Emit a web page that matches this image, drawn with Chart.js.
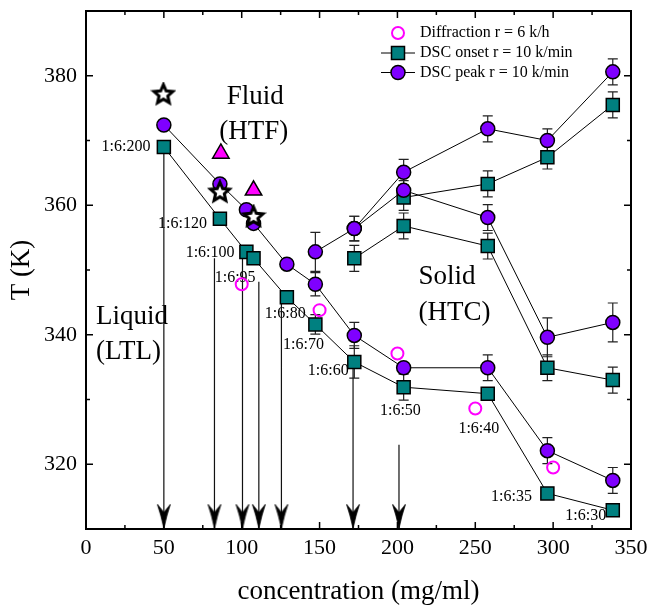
<!DOCTYPE html>
<html>
<head>
<meta charset="utf-8">
<script src="https://cdn.jsdelivr.net/npm/chart.js@4"></script>
<style>
  body { margin: 0; background: #fff; }
</style>
</head>
<body>
<canvas id="chart" width="652" height="608"></canvas>
<script>
// values: concentration (mg/ml) and T (K)
const peakLowX = [50, 86, 103, 107.6, 129, 147.3, 172.3, 204, 258, 296.3, 338.3];
const peakLowT = [372.4, 363.3, 359.3, 357.2, 350.9, 347.8, 339.9, 334.9, 334.9, 322.1, 317.5];
const peakLowErr = [0.7, 0.7, 0.7, 0.7, 0.7, 1.8, 2, 0.8, 2, 2, 2];

const peakHighX = [147.3, 172.3, 204, 258, 296.3, 338.3];
const peakHighT = [352.8, 356.4, 365.1, 371.8, 370.0, 380.6];
const peakHighErr = [3, 1.9, 2, 2, 1.8, 2];

const peakMidX = [172.3, 204, 258, 296.3, 338.3];
const peakMidT = [356.4, 362.3, 358.1, 339.6, 341.9];
const peakMidErr = [1.9, 1.5, 2, 3, 3];

const onsetLowX = [50, 86, 103, 107.6, 129, 147.3, 172.3, 204, 258, 296.3, 338.3];
const onsetLowT = [369.0, 357.9, 352.8, 351.8, 345.8, 341.6, 335.8, 331.9, 330.9, 315.5, 312.9];
const onsetLowErr = [0, 0, 0, 0, 0, 1.5, 2.5, 2, 0.8, 0.8, 0.8];

const onsetMidX = [172.3, 204, 258, 296.3, 338.3];
const onsetMidT = [351.8, 356.8, 353.7, 334.9, 333.0];
const onsetMidErr = [2, 2, 2, 2, 2];

const onsetHighX = [204, 258, 296.3, 338.3];
const onsetHighT = [361.2, 363.3, 367.4, 375.5];
const onsetHighErr = [2, 2, 1.8, 2];

const diffX = [100, 150, 200, 250, 300];
const diffT = [347.8, 343.8, 337.1, 328.6, 319.5];

const starX = [49.7, 86, 107.6];
const starT = [377.1, 362.0, 358.2];

const triX = [86.6, 107.6];
const triT = [368.0, 362.3];

const arrowX = [50, 82.5, 100.5, 111, 125.5, 171.5, 201];
const arrowTop = [368.5, 351.8, 352, 348.2, 345, 335, 323];
const arrowTip = 310.1;

const xTicksMajor = [0, 50, 100, 150, 200, 250, 300, 350];
const yTicksMajor = [320, 340, 360, 380];

const ratioLabels = ['1:6:200', '1:6:120', '1:6:100', '1:6:95', '1:6:80', '1:6:70',
                     '1:6:60', '1:6:50', '1:6:40', '1:6:35', '1:6:30'];
const ratioX = [25.7, 62, 79.7, 95.8, 128, 139.7, 155.6, 201.9, 252.3, 273.3, 320.9];
const ratioT = [369.1, 357.2, 352.6, 348.8, 343.3, 338.5, 334.4, 328.2, 325.4, 314.9, 312.0];

const regionLabels = ['Fluid', '(HTF)', 'Liquid', '(LTL)', 'Solid', '(HTC)'];
const regionX = [108.7, 107.7, 6.4, 6.4, 213.5, 213.5];
const regionT = [376.8, 371.4, 342.8, 337.4, 349.0, 343.3];
const regionAlign = ['center', 'center', 'left', 'left', 'left', 'left'];

const legendNames = ['Diffraction r = 6 k/h', 'DSC onset r = 10 k/min', 'DSC peak r = 10 k/min'];

const PURPLE = '#7f00ff';
const TEAL = '#008080';
const MAGENTA = '#ff00ff';
const SERIF = "'Liberation Serif', 'Times New Roman', serif";

Chart.defaults.font.family = SERIF;
Chart.defaults.color = '#000';

function pts(xs, ys) {
  return xs.map((x, i) => ({x: x, y: ys[i]}));
}

// 5 pointed white star
function makeStar() {
  const c = document.createElement('canvas');
  c.width = 26; c.height = 26;
  const g = c.getContext('2d');
  g.beginPath();
  for (let i = 0; i < 10; i++) {
    const r = i % 2 === 0 ? 10 : 4.6;
    const a = -Math.PI / 2 + i * Math.PI / 5;
    const px = 13 + r * Math.cos(a), py = 13 + r * Math.sin(a);
    if (i === 0) g.moveTo(px, py); else g.lineTo(px, py);
  }
  g.closePath();
  g.fillStyle = '#fff';
  g.fill();
  g.lineWidth = 3;
  g.lineJoin = 'miter';
  g.strokeStyle = '#000';
  g.stroke();
  return c;
}

// barbed arrow head, tip at the canvas centre
function makeArrow() {
  const c = document.createElement('canvas');
  c.width = 16; c.height = 52;
  const g = c.getContext('2d');
  g.beginPath();
  g.moveTo(8, 26);
  g.quadraticCurveTo(5, 12, 1.5, 2);
  g.lineTo(8, 10);
  g.lineTo(14.5, 2);
  g.quadraticCurveTo(11, 12, 8, 26);
  g.closePath();
  g.fillStyle = '#000';
  g.fill();
  g.lineWidth = 0.8;
  g.strokeStyle = '#000';
  g.stroke();
  return c;
}

const starImg = makeStar();
const arrowImg = makeArrow();

const arrowData = [];
arrowX.forEach((x, i) => {
  arrowData.push({x: x, y: arrowTop[i]}, {x: x, y: arrowTip}, {x: x, y: null});
});

const errBars = [
  [peakLowX, peakLowT, peakLowErr],
  [peakHighX, peakHighT, peakHighErr],
  [peakMidX, peakMidT, peakMidErr],
  [onsetLowX, onsetLowT, onsetLowErr],
  [onsetMidX, onsetMidT, onsetMidErr],
  [onsetHighX, onsetHighT, onsetHighErr]
];

const errorBarPlugin = {
  id: 'errorBars',
  beforeDatasetsDraw(chart) {
    const ctx = chart.ctx, xs = chart.scales.x, ys = chart.scales.y;
    ctx.save();
    ctx.strokeStyle = '#222';
    ctx.lineWidth = 1.2;
    errBars.forEach(([X, T, E]) => {
      X.forEach((x, i) => {
        if (!E[i]) return;
        const px = xs.getPixelForValue(x);
        const y1 = ys.getPixelForValue(T[i] + E[i]);
        const y2 = ys.getPixelForValue(T[i] - E[i]);
        ctx.beginPath();
        ctx.moveTo(px, y1); ctx.lineTo(px, y2);
        ctx.moveTo(px - 5, y1); ctx.lineTo(px + 5, y1);
        ctx.moveTo(px - 5, y2); ctx.lineTo(px + 5, y2);
        ctx.stroke();
      });
    });
    // text annotations
    ctx.fillStyle = '#000';
    ctx.textBaseline = 'middle';
    ctx.font = '16px ' + SERIF;
    ctx.textAlign = 'center';
    ratioLabels.forEach((t, i) => {
      ctx.fillText(t, xs.getPixelForValue(ratioX[i]), ys.getPixelForValue(ratioT[i]));
    });
    ctx.font = '27px ' + SERIF;
    regionLabels.forEach((t, i) => {
      ctx.textAlign = regionAlign[i];
      ctx.fillText(t, xs.getPixelForValue(regionX[i]), ys.getPixelForValue(regionT[i]));
    });
    ctx.restore();
  }
};

const frameLegendPlugin = {
  id: 'frameLegend',
  afterDraw(chart) {
    const ctx = chart.ctx, a = chart.chartArea;
    const xs = chart.scales.x, ys = chart.scales.y;
    ctx.save();
    ctx.strokeStyle = '#000';
    ctx.lineWidth = 2;
    ctx.strokeRect(a.left, a.top, a.right - a.left, a.bottom - a.top);
    ctx.lineWidth = 1.5;
    ctx.beginPath();
    xs.ticks.forEach(t => {
      const px = xs.getPixelForValue(t.value);
      const len = xTicksMajor.includes(t.value) ? 7 : 4;
      ctx.moveTo(px, a.bottom); ctx.lineTo(px, a.bottom - len);
      ctx.moveTo(px, a.top); ctx.lineTo(px, a.top + len);
    });
    ys.ticks.forEach(t => {
      const py = ys.getPixelForValue(t.value);
      const len = yTicksMajor.includes(t.value) ? 7 : 4;
      ctx.moveTo(a.left, py); ctx.lineTo(a.left + len, py);
      ctx.moveTo(a.right, py); ctx.lineTo(a.right - len, py);
    });
    ctx.stroke();

    // legend
    const rows = [33, 53, 72.5];
    const mx = 398;
    ctx.font = '16px ' + SERIF;
    ctx.textAlign = 'left';
    ctx.textBaseline = 'middle';
    ctx.fillStyle = '#000';
    rows.forEach((ry, i) => {
      if (i > 0) {
        ctx.lineWidth = 1;
        ctx.beginPath();
        ctx.moveTo(381, ry); ctx.lineTo(415, ry);
        ctx.stroke();
      }
      ctx.lineWidth = i === 0 ? 2 : 1.5;
      ctx.beginPath();
      if (i === 0) {
        ctx.arc(mx, ry, 6, 0, Math.PI * 2);
        ctx.strokeStyle = MAGENTA;
        ctx.stroke();
      } else if (i === 1) {
        ctx.rect(mx - 6.5, ry - 6.5, 13, 13);
        ctx.fillStyle = TEAL; ctx.fill();
        ctx.strokeStyle = '#000'; ctx.stroke();
      } else {
        ctx.arc(mx, ry, 7, 0, Math.PI * 2);
        ctx.fillStyle = PURPLE; ctx.fill();
        ctx.strokeStyle = '#000'; ctx.stroke();
      }
      ctx.strokeStyle = '#000';
      ctx.fillStyle = '#000';
      ctx.fillText(legendNames[i], 420, ry);
    });
    ctx.restore();
  }
};

const circleSet = (xs, ys) => ({
  data: pts(xs, ys), showLine: true, borderColor: '#000', borderWidth: 1,
  pointStyle: 'circle', pointRadius: 7, pointBackgroundColor: PURPLE,
  pointBorderColor: '#000', pointBorderWidth: 1.5
});
const squareSet = (xs, ys) => ({
  data: pts(xs, ys), showLine: true, borderColor: '#000', borderWidth: 1,
  pointStyle: 'rect', pointRadius: 9.2, pointBackgroundColor: TEAL,
  pointBorderColor: '#000', pointBorderWidth: 1.5
});

new Chart(document.getElementById('chart'), {
  type: 'scatter',
  data: {
    datasets: [
      { data: pts(starX, starT), pointStyle: starImg, pointRadius: 10 },
      { data: pts(triX, triT), pointStyle: 'triangle', pointRadius: 9.5,
        pointBackgroundColor: MAGENTA, pointBorderColor: '#000', pointBorderWidth: 1.5 },
      { data: pts(diffX, diffT), pointStyle: 'circle', pointRadius: 6,
        pointBackgroundColor: 'rgba(0,0,0,0)', pointBorderColor: MAGENTA, pointBorderWidth: 2 },
      circleSet(peakLowX, peakLowT),
      circleSet(peakHighX, peakHighT),
      circleSet(peakMidX, peakMidT),
      squareSet(onsetLowX, onsetLowT),
      squareSet(onsetMidX, onsetMidT),
      squareSet(onsetHighX, onsetHighT),
      { data: arrowData, showLine: true, spanGaps: false, borderColor: '#111', borderWidth: 1.2,
        pointStyle: c => (c.dataIndex % 3 === 1 ? arrowImg : 'circle'),
        pointRadius: c => (c.dataIndex % 3 === 1 ? 1 : 0),
        pointBackgroundColor: '#000', pointBorderWidth: 0 }
    ]
  },
  options: {
    responsive: false,
    animation: false,
    events: [],
    layout: { padding: { top: 8, right: 21, left: 0, bottom: 0 } },
    plugins: { legend: { display: false }, tooltip: { enabled: false } },
    scales: {
      x: {
        type: 'linear', min: 0, max: 350,
        grid: { display: false, drawTicks: false },
        border: { display: false },
        ticks: {
          stepSize: 25, autoSkip: false, padding: 6, maxRotation: 0,
          font: { size: 22 },
          callback: v => (xTicksMajor.includes(v) ? String(v) : '')
        },
        title: { display: true, text: 'concentration (mg/ml)', font: { size: 27 }, padding: { top: 2, bottom: 0 } },
        afterFit: s => { s.height = 79; s.paddingLeft = 0; s.paddingRight = 0; }
      },
      y: {
        type: 'linear', min: 310, max: 390,
        grid: { display: false, drawTicks: false },
        border: { display: false },
        ticks: {
          stepSize: 10, autoSkip: false, padding: 9,
          font: { size: 22 },
          callback: v => (yTicksMajor.includes(v) ? String(v) : '')
        },
        title: { display: true, text: 'T (K)', font: { size: 27 }, padding: { top: 6, bottom: 0 } },
        afterFit: s => { s.width = 86; s.paddingTop = 0; s.paddingBottom = 0; }
      }
    }
  },
  plugins: [errorBarPlugin, frameLegendPlugin]
});
</script>
</body>
</html>
